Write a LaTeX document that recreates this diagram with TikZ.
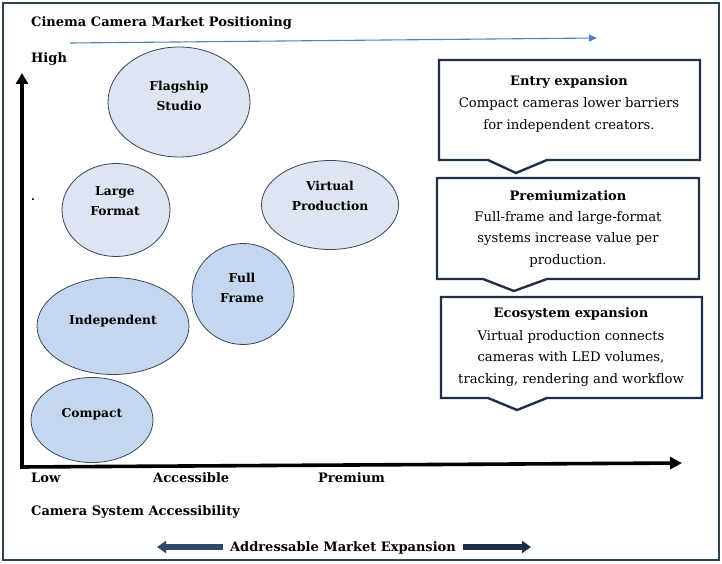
\documentclass[tikz,border=0pt]{standalone}
\usepackage{fontspec}
\setmainfont{DejaVu Serif}
\usetikzlibrary{arrows.meta,shapes.geometric}
\definecolor{frameC}{HTML}{2F4050}
\definecolor{boxC}{HTML}{1F2F45}
\definecolor{lightE}{HTML}{DCE5F1}
\definecolor{darkE}{HTML}{C5D7EE}
\definecolor{edgeE}{HTML}{3A4658}
\definecolor{blueA}{HTML}{4F81BD}
\definecolor{navyA}{HTML}{2E4A6B}
\definecolor{navyB}{HTML}{1C2F47}
\tikzset{
  ell/.style={ellipse, draw=edgeE, line width=0.8pt, inner sep=0pt},
  ellL/.style={ell, fill=lightE},
  ellD/.style={ell, fill=darkE},
  lab/.style={font=\fontsize{12.3}{20}\selectfont\bfseries, align=center, inner sep=0pt},
  axl/.style={font=\fontsize{13}{15}\selectfont\bfseries, anchor=west, inner sep=0pt},
  calloutbox/.style={draw=boxC, line width=2.4pt, fill=white, line join=miter},
  boxhead/.style={font=\fontsize{13}{15}\selectfont\bfseries, inner sep=0pt},
  boxtext/.style={font=\fontsize{13.2}{21.5}\selectfont, align=center, inner sep=0pt},
}
\begin{document}
\begin{tikzpicture}[x=1pt,y=-1pt]
\useasboundingbox (0,0) rectangle (722,564);
% outer frame
\draw[frameC, line width=1.2pt] (3,3) rectangle (719,560);
% title
\node[axl] (title) at (31,23) {Cinema Camera Market Positioning};
% thin blue arrow
\coordinate (bA) at (70,43);
\coordinate (bB) at (597,38);
\draw[blueA, line width=1.1pt, -{Triangle[length=8pt,width=7pt]}] (bA) -- (bB);
\node[axl] (high) at (31,59) {High};
% axes
\coordinate (origin) at (22,467);
\coordinate (ytop) at (22,73);
\coordinate (xright) at (682,463);
\draw[line width=4pt, -{Triangle[length=11pt,width=12pt]}] ([yshift=2pt]origin) -- (ytop);
\draw[line width=3.6pt, -{Triangle[length=12pt,width=12pt]}] ([xshift=-2pt]origin) -- (xright);
\node[inner sep=0pt, font=\fontsize{11}{12}\selectfont\bfseries] (dot) at (33,200) {.};
% ellipses
\node[ellL, minimum width=142pt, minimum height=110pt] (flag) at (179,102) {};
\node[ellL, minimum width=108pt, minimum height=93pt] (large) at (116,210) {};
\node[ellL, minimum width=137pt, minimum height=89pt] (virt) at (330,205) {};
\node[ellD, minimum width=102pt, minimum height=101pt] (full) at (243,294) {};
\node[ellD, minimum width=152pt, minimum height=97pt] (indep) at (113,326) {};
\node[ellD, minimum width=122pt, minimum height=85pt] (comp) at (92,420) {};
\node[lab] (flagT) at (179,96) {Flagship\\Studio};
\node[lab] (largeT) at (115,201) {Large\\Format};
\node[lab] (virtT) at (330,196) {Virtual\\Production};
\node[lab] (fullT) at (242,288) {Full\\Frame};
\node[lab] (indepT) at (113,321) {Independent};
\node[lab] (compT) at (92,414) {Compact};
% axis labels
\node[axl] (low) at (31,477.5) {Low};
\node[axl] (acc) at (153,477.5) {Accessible};
\node[axl] (prem) at (318,477.5) {Premium};
\node[axl] (xlab) at (31,512.5) {Camera System Accessibility};
\node[boxhead] (addr) at (343,547.5) {Addressable Market Expansion};
\coordinate (la1) at (223,547);
\coordinate (la2) at (157,547);
\coordinate (ra1) at (463,547);
\coordinate (ra2) at (531,547);
\draw[navyA, line width=5.5pt, -{Triangle[length=9pt,width=12pt]}] (la1) -- (la2);
\draw[navyB, line width=5.5pt, -{Triangle[length=9pt,width=12pt]}] (ra1) -- (ra2);
% callout boxes
\draw[calloutbox] (439,60) -- (700,60) -- (700,160) -- (547,160) -- (516,173) -- (488,160) -- (439,160) -- cycle;
\draw[calloutbox] (437,178) -- (699,178) -- (699,279) -- (547,279) -- (514,291) -- (483,279) -- (437,279) -- cycle;
\draw[calloutbox] (441,297) -- (702,297) -- (702,398) -- (547,398) -- (517,410) -- (488,398) -- (441,398) -- cycle;
\node[boxhead] (h1) at (569,82.5) {Entry expansion};
\node[boxtext] (t1) at (569,115) {Compact cameras lower barriers\\for independent creators.};
\node[boxhead] (h2) at (568,195.5) {Premiumization};
\node[boxtext] (t2) at (568,239) {Full-frame and large-format\\systems increase value per\\production.};
\node[boxhead] (h3) at (571,314.5) {Ecosystem expansion};
\node[boxtext] (t3) at (571,358) {Virtual production connects\\cameras with LED volumes,\\tracking, rendering and workflow};
\end{tikzpicture}
\end{document}
